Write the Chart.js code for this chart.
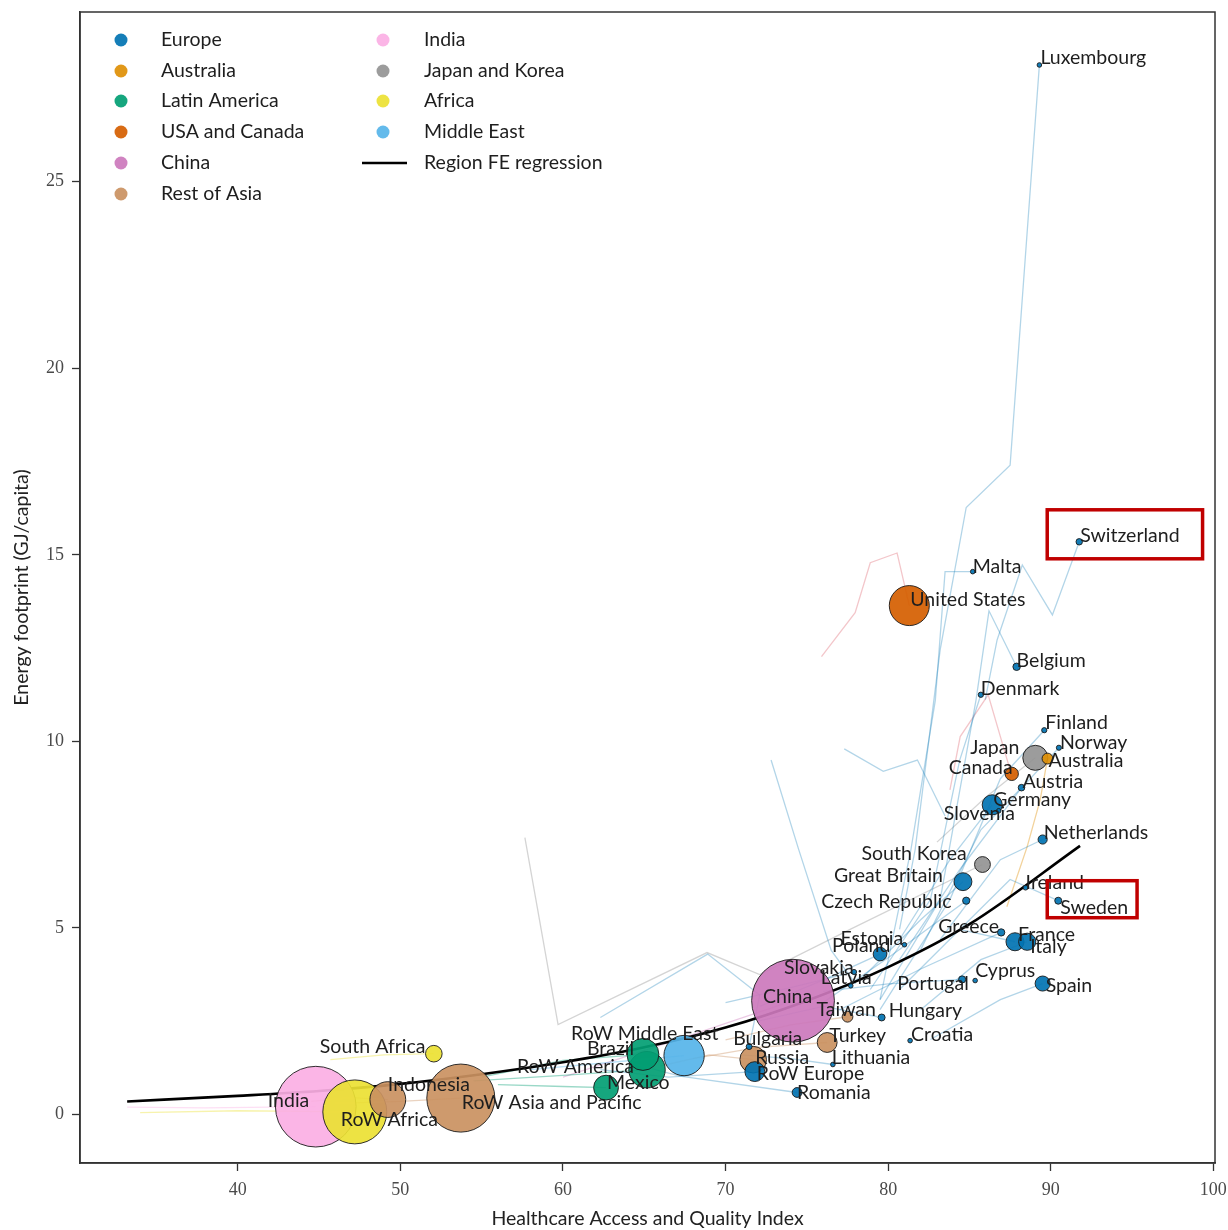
<!DOCTYPE html>
<html><head><meta charset="utf-8">
<script src="https://cdn.jsdelivr.net/npm/chart.js@4"></script>
<style>html,body{margin:0;padding:0;background:#fff}canvas{display:block}</style>
</head><body>
<canvas id="c" width="1228" height="1230"></canvas>
<script>
// ---------- DATA ----------
const regions = ['Europe','Australia','Latin America','USA and Canada','China','Rest of Asia','India','Japan and Korea','Africa','Middle East'];
const regionColors = ['#0173B2','#DE8F05','#029E73','#D55E00','#CC78BC','#CA9161','#FBAFE4','#949494','#ECE133','#56B4E9'];

const countryNames = ['Luxembourg','Switzerland','Malta','Belgium','Denmark','Finland','Norway','Austria','Germany','Slovenia','Netherlands','Great Britain','Czech Republic','Ireland','Sweden','Greece','France','Italy','Estonia','Poland','Slovakia','Latvia','Portugal','Cyprus','Spain','Hungary','Croatia','Bulgaria','Lithuania','RoW Europe','Romania',
 'Australia','United States','Canada','Japan','South Korea','China','Taiwan','Turkey','Russia','Indonesia','RoW Asia and Pacific','Brazil','RoW America','Mexico','RoW Middle East','India','RoW Africa','South Africa'];
const countryRegion = ['Europe','Europe','Europe','Europe','Europe','Europe','Europe','Europe','Europe','Europe','Europe','Europe','Europe','Europe','Europe','Europe','Europe','Europe','Europe','Europe','Europe','Europe','Europe','Europe','Europe','Europe','Europe','Europe','Europe','Europe','Europe',
 'Australia','USA and Canada','USA and Canada','Japan and Korea','Japan and Korea','China','Rest of Asia','Rest of Asia','Rest of Asia','Rest of Asia','Rest of Asia','Latin America','Latin America','Latin America','Middle East','India','Africa','Africa'];
const haqIndex = [89.3,91.75,85.2,87.9,85.7,89.6,90.5,88.2,86.4,86.8,89.5,84.6,84.8,88.45,90.46,86.95,87.8,88.55,81.0,79.5,77.9,77.7,84.55,85.35,89.5,79.6,81.35,71.45,76.6,71.8,74.4,
 89.8,81.3,87.6,89.05,85.8,74.15,77.5,76.25,71.7,49.23,53.72,64.92,65.17,62.65,67.45,44.8,47.2,52.06];
const energyFootprint = [28.13,15.35,14.55,12.0,11.25,10.3,9.83,8.76,8.3,8.14,7.37,6.24,5.73,6.08,5.73,4.88,4.63,4.63,4.55,4.3,3.82,3.45,3.62,3.59,3.51,2.6,1.98,1.82,1.34,1.15,0.59,
 9.54,13.64,9.13,9.56,6.7,3.05,2.62,1.93,1.47,0.40,0.44,1.61,1.2,0.72,1.58,0.21,0.07,1.63];
const populationM = [0.6,8.4,0.45,11.3,5.7,5.5,5.3,8.8,82,2.1,17,65,10.6,4.8,10,10.8,66,60,1.3,38,5.4,1.9,10.3,1.2,46,9.8,4.1,7.1,2.8,80,19.6,
 24,325,36,127,51,1390,23.5,80,144,260,940,207,270,125,330,1320,830,56];
// label placement (pixel offset of text start / baseline from the marker)
const labelOffsets = [[1,-1],[1,0],[0,1],[0,0],[0,0],[1,-1],[1,1],[1,0],[1,1],[-55,9],[1,-1],[-129,0],[-145,7],[0,1],[2,13],[-63,1],[3,-1],[3,11],[-64,0],[-48,-2],[-70,2],[-30,-2],[-65,11],[0,-4],[3,8],[7,0],[1,0],[-16,-2],[-1,-1],[2,8],[0,7],
 [1,8],[1,0],[-63,0],[-65,-4],[-121,-5],[-30,2],[-31,-1],[2,0],[2,4],[0,-9],[1,11],[-56,1],[-130,3],[1,1],[-113,-16],[-48,0],[-14,14],[-114,-1]];
const highlightedLabels = {'Switzerland':[33,23,32,17],'Sweden':[13,9,33,4]};

const regressionHAQ = [33.2,40,45,50,55,60,65,70,75,80,85,91.8];
const regressionEnergy = [0.35,0.50,0.63,0.82,1.08,1.40,1.80,2.33,3.05,3.95,5.1,7.2];

const trajectories = [
 {region:'Europe', pts:[[80.7,4.96],[81.66,7.1],[83.2,12.46],[84.8,16.27],[87.5,17.4],[89.3,28.13]]},
 {region:'Europe', pts:[[85.97,11.12],[86.7,12.72],[88.25,14.73],[90.1,13.39],[91.75,15.35]]},
 {region:'Europe', pts:[[79.5,3.08],[81.4,7.1],[82.9,11.1],[83.5,14.55],[85.2,14.55]]},
 {region:'Europe', pts:[[79.5,3.08],[83.2,5.76],[85.4,11.1],[86.2,13.5],[87.9,12.0]]},
 {region:'Europe', pts:[[78.9,3.35],[82.6,5.76],[84.4,9.5],[85.7,11.25]]},
 {region:'Europe', pts:[[79.5,2.81],[83.8,5.76],[86.9,9.0],[89.6,10.3]]},
 {region:'Europe', pts:[[80.7,4.15],[84.4,6.56],[88.1,8.7],[90.5,9.83]]},
 {region:'Europe', pts:[[82.0,4.42],[85.7,7.63],[88.2,8.76]]},
 {region:'Europe', pts:[[80.7,4.69],[83.8,6.83],[86.4,8.3]]},
 {region:'Europe', pts:[[83.2,4.69],[86.9,6.83],[89.5,7.37]]},
 {region:'Europe', pts:[[84.4,4.96],[87.5,6.3],[90.46,5.73]]},
 {region:'Europe', pts:[[80.7,3.35],[84.4,4.96],[87.8,4.63]]},
 {region:'Europe', pts:[[82.0,2.81],[85.7,4.15],[88.55,4.63]]},
 {region:'Europe', pts:[[82.6,2.01],[86.9,3.08],[89.5,3.51]]},
 {region:'Europe', pts:[[78.3,3.62],[82.0,5.22],[84.6,6.24]]},
 {region:'Europe', pts:[[62.3,1.2],[66.5,1.0],[71.8,1.15]]},
 {region:'Europe', pts:[[64.0,1.4],[67.2,1.03],[74.4,0.59]]},
 {region:'Europe', pts:[[72.1,2.9],[76.0,3.6],[79.5,4.3]]},
 {region:'Europe', pts:[[72.0,2.5],[76.0,2.9],[79.6,2.6]]},
 {region:'Europe', pts:[[76.0,3.0],[80.0,4.2],[84.8,5.73]]},
 {region:'Europe', pts:[[77.0,2.8],[82.0,3.9],[86.95,4.88]]},
 {region:'Europe', pts:[[76.0,3.3],[80.0,3.5],[84.55,3.62]]},
 {region:'Europe', pts:[[62.3,2.6],[68.9,4.3],[72.1,3.2],[71.45,1.82]]},
 {region:'Europe', pts:[[72.8,9.5],[74.5,7.1],[76.5,4.4],[78.0,3.5]]},
 {region:'Europe', pts:[[77.3,9.8],[79.7,9.2],[81.8,9.5],[83.5,8.0]]},
 {region:'Europe', pts:[[70.0,3.0],[74.0,3.4],[77.9,3.82]]},
 {region:'Europe', pts:[[71.0,1.6],[74.0,1.5],[76.6,1.34]]},
 {region:'Japan and Korea', pts:[[57.66,7.42],[59.7,2.41],[68.86,4.34],[72.1,3.75],[77.66,4.96],[85.8,6.7]]},
 {region:'Japan and Korea', pts:[[83.0,7.3],[86.0,8.5],[89.05,9.56]]},
 {region:'USA and Canada', pts:[[83.8,8.7],[84.43,10.13],[86.15,11.25],[87.57,9.13]]},
 {region:'USA and Canada', pts:[[75.9,12.27],[77.97,13.45],[78.9,14.79],[80.55,15.05],[81.3,13.64]]},
 {region:'Australia', pts:[[87.3,5.57],[88.55,7.18],[89.35,8.43],[89.8,9.54]]},
 {region:'Rest of Asia', pts:[[70.0,2.0],[74.0,2.4],[77.5,2.62]]},
 {region:'Rest of Asia', pts:[[68.0,1.5],[72.0,1.8],[76.25,1.93]]},
 {region:'Rest of Asia', pts:[[66.0,1.3],[69.0,1.6],[71.7,1.47]]},
 {region:'Rest of Asia', pts:[[44.5,0.35],[47.0,0.45],[49.23,0.40]]},
 {region:'Rest of Asia', pts:[[46.0,0.3],[50.0,0.35],[53.72,0.44]]},
 {region:'India', pts:[[33.2,0.2],[38.0,0.18],[44.8,0.21]]},
 {region:'Africa', pts:[[34.0,0.05],[40.0,0.1],[47.2,0.07]]},
 {region:'Africa', pts:[[45.7,1.47],[49.0,1.6],[52.06,1.63]]},
 {region:'Latin America', pts:[[55.0,1.0],[60.0,1.45],[64.92,1.61]]},
 {region:'Latin America', pts:[[54.5,0.9],[60.0,1.05],[65.17,1.2]]},
 {region:'Latin America', pts:[[56.0,0.8],[60.0,0.75],[62.65,0.72]]},
 {region:'Middle East', pts:[[58.0,1.2],[63.0,1.4],[67.45,1.58]]},
 {region:'China', pts:[[60.0,1.0],[67.0,2.0],[74.15,3.05]]}
];

const xTicks = [40,50,60,70,80,90,100];
const yTicks = [0,5,10,15,20,25];

// ---------- helpers ----------
function rgba(hex, a){const n=parseInt(hex.slice(1),16);return `rgba(${n>>16&255},${n>>8&255},${n&255},${a})`;}
const colorOf = r => regionColors[regions.indexOf(r)];
const radiusOf = p => Math.max(2.3, 1.11*Math.sqrt(p));
const FONT = '19.5px Lato';

const bubbleOrder = {'Europe':1,'Australia':2,'Japan and Korea':3,'USA and Canada':4,'Middle East':5,'Latin America':6,'China':7,'Rest of Asia':8,'Africa':9,'India':10};

const datasets = [];
trajectories.forEach(t => datasets.push({
  type:'line', data:t.pts.map(p=>({x:p[0],y:p[1]})),
  borderColor:rgba(t.region==='USA and Canada' ? '#E0707A' : colorOf(t.region), t.region==='Europe'?0.3:0.4),
  borderWidth:1.3, pointRadius:0, fill:false, tension:0, order:100
}));
datasets.push({type:'line', data:regressionHAQ.map((x,i)=>({x, y:regressionEnergy[i]})), borderColor:'#000',
  borderWidth:2.6, pointRadius:0, fill:false, tension:0.4, cubicInterpolationMode:'monotone', order:50});
regions.forEach(reg => {
  const pts = [];
  countryNames.forEach((n,i)=>{ if(countryRegion[i]===reg) pts.push({x:haqIndex[i], y:energyFootprint[i], r:radiusOf(populationM[i])}); });
  pts.sort((a,b)=>b.r-a.r);
  datasets.push({type:'bubble', label:reg, data:pts, backgroundColor:rgba(colorOf(reg),0.92),
    borderColor:'#1a1a1a', borderWidth:0.9, order:bubbleOrder[reg]});
});

const overlay = {
  id:'overlay',
  afterDatasetsDraw(chart){
    const {ctx, scales:{x,y}} = chart;
    ctx.save();
    ctx.font = FONT;
    ctx.fillStyle = '#1e1e1e';
    ctx.textAlign = 'left'; ctx.textBaseline = 'alphabetic';
    countryNames.forEach((n,i)=>{
      const px = x.getPixelForValue(haqIndex[i]) + labelOffsets[i][0];
      const py = y.getPixelForValue(energyFootprint[i]) + labelOffsets[i][1];
      ctx.fillText(n, px, py);
      if (highlightedLabels[n]) {
        const [pl,pr,pt,pb] = highlightedLabels[n];
        const w = ctx.measureText(n).width;
        ctx.save();
        ctx.strokeStyle = '#C00000'; ctx.lineWidth = 3.5;
        ctx.strokeRect(px-pl, py-pt, w+pl+pr, pt+pb);
        ctx.restore();
      }
    });
    // frame
    const a = chart.chartArea;
    ctx.strokeStyle = '#333'; ctx.lineWidth = 1.5;
    ctx.strokeRect(a.left, a.top, a.right-a.left, a.bottom-a.top);
    // legend
    const col1 = regions.slice(0,6), col2 = regions.slice(6);
    const rowY = [40,71,101,132,163,194];
    ctx.font = FONT; ctx.textBaseline = 'middle';
    col1.forEach((r,i)=>{
      ctx.beginPath(); ctx.arc(121,rowY[i],6.5,0,Math.PI*2); ctx.fillStyle=rgba(colorOf(r),0.92); ctx.fill();
      ctx.fillStyle='#1e1e1e'; ctx.fillText(r,161,rowY[i]);
    });
    col2.forEach((r,i)=>{
      ctx.beginPath(); ctx.arc(383,rowY[i],6.5,0,Math.PI*2); ctx.fillStyle=rgba(colorOf(r),0.92); ctx.fill();
      ctx.fillStyle='#1e1e1e'; ctx.fillText(r,424,rowY[i]);
    });
    ctx.beginPath(); ctx.moveTo(362,rowY[4]); ctx.lineTo(407,rowY[4]); ctx.strokeStyle='#000'; ctx.lineWidth=2.6; ctx.stroke();
    ctx.fillStyle='#1e1e1e'; ctx.fillText('Region FE regression',424,rowY[4]);
    ctx.restore();
  }
};

new Chart(document.getElementById('c'), {
  type:'bubble',
  data:{datasets},
  options:{
    responsive:false, animation:false, devicePixelRatio:1,
    layout:{autoPadding:false, padding:{top:12,right:13,left:0,bottom:0}},
    plugins:{legend:{display:false}, tooltip:{enabled:false}},
    scales:{
      x:{type:'linear', min:30.3, max:100.1,
        afterBuildTicks:s=>{s.ticks=xTicks.map(v=>({value:v}));},
        afterFit:s=>{s.height=67; s.paddingLeft=0; s.paddingRight=0;},
        grid:{drawOnChartArea:false, tickLength:8, tickColor:'#333', tickWidth:1.3},
        border:{color:'#333', width:1.5},
        ticks:{font:{family:'Liberation Serif', size:18}, color:'#4a4a4a', padding:8, maxRotation:0},
        title:{display:true, text:'Healthcare Access and Quality Index', font:{family:'Lato', size:19.5}, color:'#222', padding:{top:0,bottom:0}}
      },
      y:{type:'linear', min:-1.3, max:29.55,
        afterBuildTicks:s=>{s.ticks=yTicks.map(v=>({value:v}));},
        afterFit:s=>{s.width=80; s.paddingTop=0; s.paddingBottom=0;},
        grid:{drawOnChartArea:false, tickLength:8, tickColor:'#333', tickWidth:1.3},
        border:{color:'#333', width:1.5},
        ticks:{font:{family:'Liberation Serif', size:18}, color:'#4a4a4a', padding:8},
        title:{display:true, text:'Energy footprint (GJ/capita)', font:{family:'Lato', size:19.5}, color:'#222', padding:{top:10,bottom:0}}
      }
    }
  },
  plugins:[overlay]
});
</script>
</body></html>
